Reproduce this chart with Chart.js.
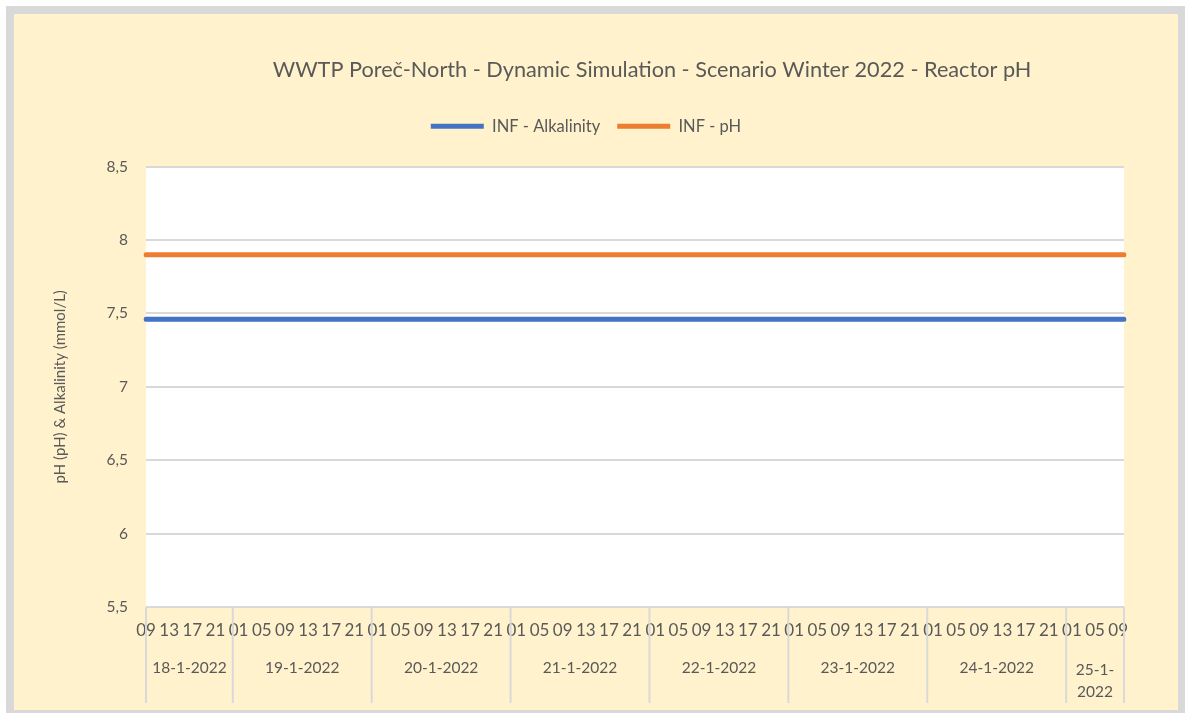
<!DOCTYPE html>
<html>
<head>
<meta charset="utf-8">
<script src="https://cdn.jsdelivr.net/npm/chart.js@4/dist/chart.umd.min.js"></script>
<style>
  html, body { margin: 0; padding: 0; background: #ffffff; width: 1192px; height: 713px; overflow: hidden; }
  #frame { position: absolute; left: 6px; top: 6px; width: 1164px; height: 696px;
           border-style: solid; border-color: #d9d9d9; border-width: 8px 7px 8px 8px; background: #fff2cc; }
  canvas { display: block; }
</style>
</head>
<body>
<div id="frame"><canvas id="c" width="1164" height="696"></canvas></div>
<script>
// ---- data ----
const chartTitle = 'WWTP Poreč-North - Dynamic Simulation - Scenario Winter 2022 - Reactor pH';
const yAxisTitle = 'pH (pH) & Alkalinity (mmol/L)';
const days = ['18-1-2022', '19-1-2022', '20-1-2022', '21-1-2022', '22-1-2022', '23-1-2022', '24-1-2022', '25-1-2022'];
const firstDayStartHour = 9;   // first sample hour on 18-1-2022
const lastDayEndHour = 10;     // last sample hour on 25-1-2022
const hourLabelInterval = 4;   // an hour label every 4 samples
const seriesNames = ['INF - Alkalinity', 'INF - pH'];
const seriesColors = ['#4472c4', '#ed7d31'];
const yTicks = [5.5, 6, 6.5, 7, 7.5, 8, 8.5];

const alkalinity = [
  7.46,7.46,7.46,7.46,7.46,7.46,7.46,7.46,7.46,7.46,
  7.46,7.46,7.46,7.46,7.46,7.46,7.46,7.46,7.46,7.46,
  7.46,7.46,7.46,7.46,7.46,7.46,7.46,7.46,7.46,7.46,
  7.46,7.46,7.46,7.46,7.46,7.46,7.46,7.46,7.46,7.46,
  7.46,7.46,7.46,7.46,7.46,7.46,7.46,7.46,7.46,7.46,
  7.46,7.46,7.46,7.46,7.46,7.46,7.46,7.46,7.46,7.46,
  7.46,7.46,7.46,7.46,7.46,7.46,7.46,7.46,7.46,7.46,
  7.46,7.46,7.46,7.46,7.46,7.46,7.46,7.46,7.46,7.46,
  7.46,7.46,7.46,7.46,7.46,7.46,7.46,7.46,7.46,7.46,
  7.46,7.46,7.46,7.46,7.46,7.46,7.46,7.46,7.46,7.46,
  7.46,7.46,7.46,7.46,7.46,7.46,7.46,7.46,7.46,7.46,
  7.46,7.46,7.46,7.46,7.46,7.46,7.46,7.46,7.46,7.46,
  7.46,7.46,7.46,7.46,7.46,7.46,7.46,7.46,7.46,7.46,
  7.46,7.46,7.46,7.46,7.46,7.46,7.46,7.46,7.46,7.46,
  7.46,7.46,7.46,7.46,7.46,7.46,7.46,7.46,7.46,7.46,
  7.46,7.46,7.46,7.46,7.46,7.46,7.46,7.46,7.46,7.46,
  7.46,7.46,7.46,7.46,7.46,7.46,7.46,7.46,7.46,7.46
];
const ph = [
  7.90,7.90,7.90,7.90,7.90,7.90,7.90,7.90,7.90,7.90,
  7.90,7.90,7.90,7.90,7.90,7.90,7.90,7.90,7.90,7.90,
  7.90,7.90,7.90,7.90,7.90,7.90,7.90,7.90,7.90,7.90,
  7.90,7.90,7.90,7.90,7.90,7.90,7.90,7.90,7.90,7.90,
  7.90,7.90,7.90,7.90,7.90,7.90,7.90,7.90,7.90,7.90,
  7.90,7.90,7.90,7.90,7.90,7.90,7.90,7.90,7.90,7.90,
  7.90,7.90,7.90,7.90,7.90,7.90,7.90,7.90,7.90,7.90,
  7.90,7.90,7.90,7.90,7.90,7.90,7.90,7.90,7.90,7.90,
  7.90,7.90,7.90,7.90,7.90,7.90,7.90,7.90,7.90,7.90,
  7.90,7.90,7.90,7.90,7.90,7.90,7.90,7.90,7.90,7.90,
  7.90,7.90,7.90,7.90,7.90,7.90,7.90,7.90,7.90,7.90,
  7.90,7.90,7.90,7.90,7.90,7.90,7.90,7.90,7.90,7.90,
  7.90,7.90,7.90,7.90,7.90,7.90,7.90,7.90,7.90,7.90,
  7.90,7.90,7.90,7.90,7.90,7.90,7.90,7.90,7.90,7.90,
  7.90,7.90,7.90,7.90,7.90,7.90,7.90,7.90,7.90,7.90,
  7.90,7.90,7.90,7.90,7.90,7.90,7.90,7.90,7.90,7.90,
  7.90,7.90,7.90,7.90,7.90,7.90,7.90,7.90,7.90,7.90
];

// ---- hourly categories built from the day list ----
const categories = [];   // e.g. '18-1-2022 09'
const hourOf = [];
const dayOf = [];
days.forEach((d, di) => {
  const h0 = di === 0 ? firstDayStartHour : 0;
  const h1 = di === days.length - 1 ? lastDayEndHour : 23;
  for (let h = h0; h <= h1; h++) {
    const hh = String(h).padStart(2, '0');
    categories.push(d + ' ' + hh);
    hourOf.push(hh);
    dayOf.push(di);
  }
});

const TEXT = '#595959';
const FONT = 'Lato, "Liberation Sans", sans-serif';
Chart.defaults.font.family = FONT;
Chart.defaults.color = TEXT;

const plotBg = {
  id: 'plotBg',
  beforeDraw(chart) {
    const {ctx, chartArea: a} = chart;
    ctx.save();
    ctx.fillStyle = '#ffffff';
    ctx.fillRect(a.left, a.top, a.right - a.left, a.bottom - a.top);
    ctx.restore();
  }
};

const boxTweaks = {
  id: 'boxTweaks',
  beforeInit(chart) {
    const orig = chart.legend.fit;
    chart.legend.fit = function () { orig.call(this); this.height += 22; };
  },
  afterLayout(chart) {
    const t = chart.titleBlock;
    if (t) { t.left += 17; t.right += 17; }
    const lg = chart.legend;
    if (lg) { lg.left += 17; lg.right += 17; }
  }
};

const dayGroups = {
  id: 'dayGroups',
  afterDraw(chart) {
    const {ctx, chartArea: a} = chart;
    const x = chart.scales.x;
    const last = categories.length - 1;
    ctx.save();
    ctx.strokeStyle = '#d9d9d9';
    ctx.lineWidth = 2;
    ctx.font = '15.5px ' + FONT;
    ctx.fillStyle = TEXT;
    ctx.textAlign = 'center';
    ctx.textBaseline = 'middle';
    const starts = [];
    dayOf.forEach((d, i) => { if (i === 0 || dayOf[i - 1] !== d) starts.push(i); });
    const bounds = starts.map(i => x.getPixelForValue(i));
    bounds.push(x.getPixelForValue(last));
    bounds.forEach(px => {
      ctx.beginPath();
      ctx.moveTo(px, a.bottom);
      ctx.lineTo(px, 689);
      ctx.stroke();
    });
    days.forEach((d, di) => {
      const l = bounds[di], r = bounds[di + 1];
      const cx = (l + r) / 2;
      if (ctx.measureText(d).width > (r - l) - 6) {
        const k = d.lastIndexOf('-') + 1;
        ctx.fillText(d.slice(0, k), cx, 656);
        ctx.fillText(d.slice(k), cx, 678);
      } else {
        ctx.fillText(d, cx, 654);
      }
    });
    ctx.restore();
  }
};

new Chart(document.getElementById('c'), {
  type: 'line',
  data: {
    labels: categories,
    datasets: [
      { label: seriesNames[0], data: alkalinity, borderColor: seriesColors[0], backgroundColor: seriesColors[0],
        borderWidth: 5, pointRadius: 0, borderCapStyle: 'round', pointStyle: 'line', tension: 0 },
      { label: seriesNames[1], data: ph, borderColor: seriesColors[1], backgroundColor: seriesColors[1],
        borderWidth: 5, pointRadius: 0, borderCapStyle: 'round', pointStyle: 'line', tension: 0 }
    ]
  },
  options: {
    responsive: false,
    animation: false,
    devicePixelRatio: 1,
    layout: { padding: { left: 0, right: 54, top: 0, bottom: 0 } },
    plugins: {
      title: {
        display: true, text: chartTitle, fullSize: false,
        font: { size: 21.7, weight: 'normal', family: FONT }, color: TEXT,
        padding: { top: 43, bottom: 18 }
      },
      legend: {
        display: true, position: 'top',
        labels: {
          usePointStyle: true, pointStyle: 'line', pointStyleWidth: 53,
          font: { size: 16.5, family: FONT }, color: TEXT, padding: 17
        }
      },
      tooltip: { enabled: false }
    },
    scales: {
      x: {
        type: 'category',
        offset: false,
        grid: { display: false, drawTicks: false },
        border: { display: false },
        ticks: {
          autoSkip: false, maxRotation: 0, minRotation: 0, padding: 13,
          font: { size: 17, family: FONT }, color: TEXT,
          callback: (v, i) => (i % hourLabelInterval === 0 ? hourOf[i] : '')
        },
        afterFit: s => { s.height = 103; }
      },
      y: {
        min: yTicks[0], max: yTicks[yTicks.length - 1],
        afterBuildTicks: s => { s.ticks = yTicks.map(v => ({ value: v })); },
        grid: { color: '#d9d9d9', lineWidth: 2, drawTicks: false },
        border: { display: false },
        ticks: {
          padding: 18, font: { size: 15.5, family: FONT }, color: TEXT,
          callback: v => String(v).replace('.', ',')
        },
        title: {
          display: true, text: yAxisTitle, color: TEXT,
          font: { size: 15, family: FONT }, padding: { top: 37, bottom: 0 }
        },
        afterFit: s => { s.width = 132; }
      }
    }
  },
  plugins: [plotBg, boxTweaks, dayGroups]
});
</script>
</body>
</html>
